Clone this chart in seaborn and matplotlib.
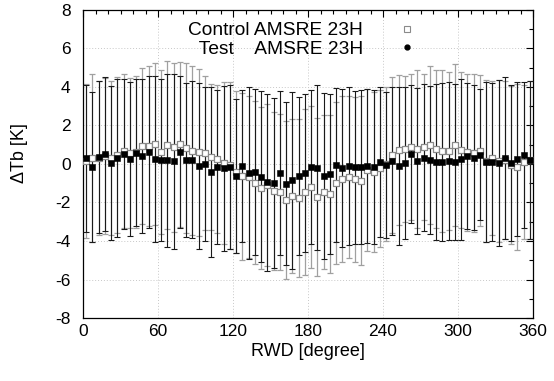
import numpy as np
import pandas as pd
import matplotlib
matplotlib.use("Agg")
import matplotlib.pyplot as plt
from matplotlib.lines import Line2D
from matplotlib.ticker import MultipleLocator
import seaborn as sns

# RWD bin centres (degree)
rwd = np.arange(2.5, 360, 5.0)

control_mean = [0.15, 0.30, 0.30, 0.42, 0.30, 0.45, 0.65, 0.55, 0.60, 0.95, 0.95, 1.05, 0.62, 0.98, 0.87, 1.02, 0.83, 0.70,
                0.61, 0.59, 0.38, 0.26, 0.07, -0.07, -0.42, -0.64, -0.69, -0.97, -1.23, -1.08, -1.39, -1.46, -1.87, -1.66, -1.78, -1.45,
                -1.20, -1.70, -1.48, -1.56, -1.00, -0.79, -0.68, -0.80, -0.87, -0.30, -0.41, -0.23, -0.02, 0.45, 0.71, 0.78, 0.90, 0.77,
                0.90, 0.99, 0.80, 0.69, 0.69, 1.00, 0.75, 0.60, 0.55, 0.70, 0.15, 0.33, 0.17, 0.20, -0.03, -0.17, 0.12, 0.22]
control_std = [4.00, 4.35, 4.00, 4.05, 4.00, 4.05, 4.00, 3.90, 3.95, 4.05, 4.15, 4.20, 4.25, 4.35, 4.40, 4.30, 4.40, 4.40,
               4.35, 4.00, 3.80, 3.85, 4.20, 4.35, 4.20, 4.35, 4.20, 4.25, 4.20, 4.20, 4.10, 4.05, 4.10, 4.00, 4.10, 4.30,
               4.20, 4.10, 4.00, 4.10, 4.20, 4.30, 4.20, 4.30, 4.40, 4.20, 4.15, 4.10, 4.00, 4.05, 3.90, 3.80, 3.80, 4.10,
               3.80, 4.10, 4.10, 4.20, 4.10, 4.20, 4.05, 4.10, 4.10, 3.90, 4.20, 4.00, 4.20, 4.10, 4.10, 4.30, 4.00, 4.10]
test_mean = [0.29, -0.14, 0.35, 0.50, 0.03, 0.33, 0.52, 0.26, 0.59, 0.42, 0.62, 0.26, 0.19, 0.19, 0.14, 0.62, 0.23, 0.23,
             -0.09, 0.02, -0.42, -0.14, -0.23, -0.14, -0.62, -0.10, -0.47, -0.42, -0.66, -0.94, -0.99, -0.47, -1.02, -0.85, -0.61, -0.47,
             -0.16, -0.19, -0.62, -0.50, -0.06, -0.22, -0.09, -0.18, -0.17, -0.11, -0.17, 0.10, -0.04, 0.17, -0.09, 0.03, 0.51, 0.17,
             0.33, 0.21, 0.09, 0.09, 0.14, 0.09, 0.24, 0.43, 0.33, 0.48, 0.12, 0.12, 0.05, 0.31, 0.07, 0.24, 0.48, 0.21]
test_std = [3.80, 3.90, 3.95, 4.00, 4.00, 4.10, 3.90, 4.00, 3.80, 4.00, 3.95, 4.30, 4.20, 4.50, 4.55, 3.95, 4.00, 4.10,
            4.30, 4.00, 4.40, 4.00, 4.30, 4.25, 4.00, 3.95, 4.45, 4.30, 4.45, 4.60, 4.40, 4.25, 4.25, 4.60, 4.10, 4.10,
            4.00, 4.30, 4.30, 4.15, 4.00, 4.10, 4.10, 3.95, 4.00, 4.00, 4.00, 3.90, 3.80, 3.85, 4.10, 3.95, 3.60, 3.80,
            3.80, 3.85, 4.05, 4.10, 4.10, 4.05, 4.20, 3.80, 3.75, 3.40, 4.15, 4.10, 4.30, 4.20, 4.05, 4.00, 3.80, 4.10]

x_ticks = [0, 60, 120, 180, 240, 300, 360]
y_ticks = [-8, -6, -4, -2, 0, 2, 4, 6, 8]
label_control = "Control AMSRE 23H"
label_test = "   Test    AMSRE 23H"

df = pd.DataFrame({"rwd": np.concatenate([rwd, rwd]),
                   "dtb": np.concatenate([control_mean, test_mean]),
                   "err": np.concatenate([control_std, test_std]),
                   "series": ["Control"] * len(rwd) + ["Test"] * len(rwd)})

sns.set_style("white")
plt.rcParams["font.family"] = ["Liberation Sans", "DejaVu Sans"]
plt.rcParams["axes.unicode_minus"] = False
plt.rcParams["text.color"] = "black"
plt.rcParams["axes.labelcolor"] = "black"
plt.rcParams["xtick.color"] = "black"
plt.rcParams["ytick.color"] = "black"

fig = plt.figure(figsize=(5.54, 3.81), dpi=100)
ax = fig.add_axes([83 / 554, 1 - 318 / 381, 450 / 554, 308 / 381])

ctrl = df[df.series == "Control"]
tst = df[df.series == "Test"]
ax.errorbar(ctrl.rwd, ctrl.dtb, yerr=ctrl.err, fmt="none", ecolor="#a0a0a0",
            elinewidth=0.9, capsize=2.2, capthick=0.9, zorder=2)
ax.errorbar(tst.rwd, tst.dtb, yerr=tst.err, fmt="none", ecolor="#1a1a1a",
            elinewidth=0.8, capsize=2.2, capthick=0.8, zorder=3)
sns.scatterplot(data=ctrl, x="rwd", y="dtb", ax=ax, marker="s", s=15,
                facecolor="white", edgecolor="#8a8a8a", linewidth=0.9, zorder=4, legend=False)
sns.scatterplot(data=tst, x="rwd", y="dtb", ax=ax, marker="s", s=15,
                color="black", edgecolor="black", linewidth=0.4, zorder=5, legend=False)

ax.set_xlim(0, 360)
ax.set_ylim(-8, 8)
ax.set_xticks(x_ticks)
ax.set_yticks(y_ticks)
ax.xaxis.set_minor_locator(MultipleLocator(10))
ax.yaxis.set_minor_locator(MultipleLocator(1))
ax.tick_params(which="both", direction="in", top=True, right=True, colors="black",
               labelsize=12.5, width=0.8)
ax.tick_params(which="major", length=5)
ax.tick_params(which="minor", length=3)
ax.tick_params(axis="y", pad=9)
ax.tick_params(axis="x", pad=4)
ax.grid(True, which="major", color="#c8c8c8", linestyle=(0, (1, 2)), linewidth=0.7)
for s in ax.spines.values():
    s.set_color("black")
    s.set_linewidth(0.9)

ax.set_xlabel("RWD [degree]", fontsize=13, labelpad=3)
ax.set_ylabel("ΔTb [K]", fontsize=13)
ax.yaxis.set_label_coords(-0.122, 0.536)

handles = [Line2D([], [], linestyle="none", marker="s", markersize=4, markerfacecolor="white",
                  markeredgecolor="#8a8a8a", markeredgewidth=0.8),
           Line2D([], [], linestyle="none", marker="o", markersize=3.5, color="black")]
leg = ax.legend(handles, [label_control, label_test], loc="upper center",
                bbox_to_anchor=(0.495, 1.005), frameon=False, markerfirst=False,
                fontsize=13.8, handlelength=2.2, handletextpad=1.2, labelspacing=0.05,
                borderaxespad=0.3)

fig.savefig("out.png", dpi=100, facecolor="white")
